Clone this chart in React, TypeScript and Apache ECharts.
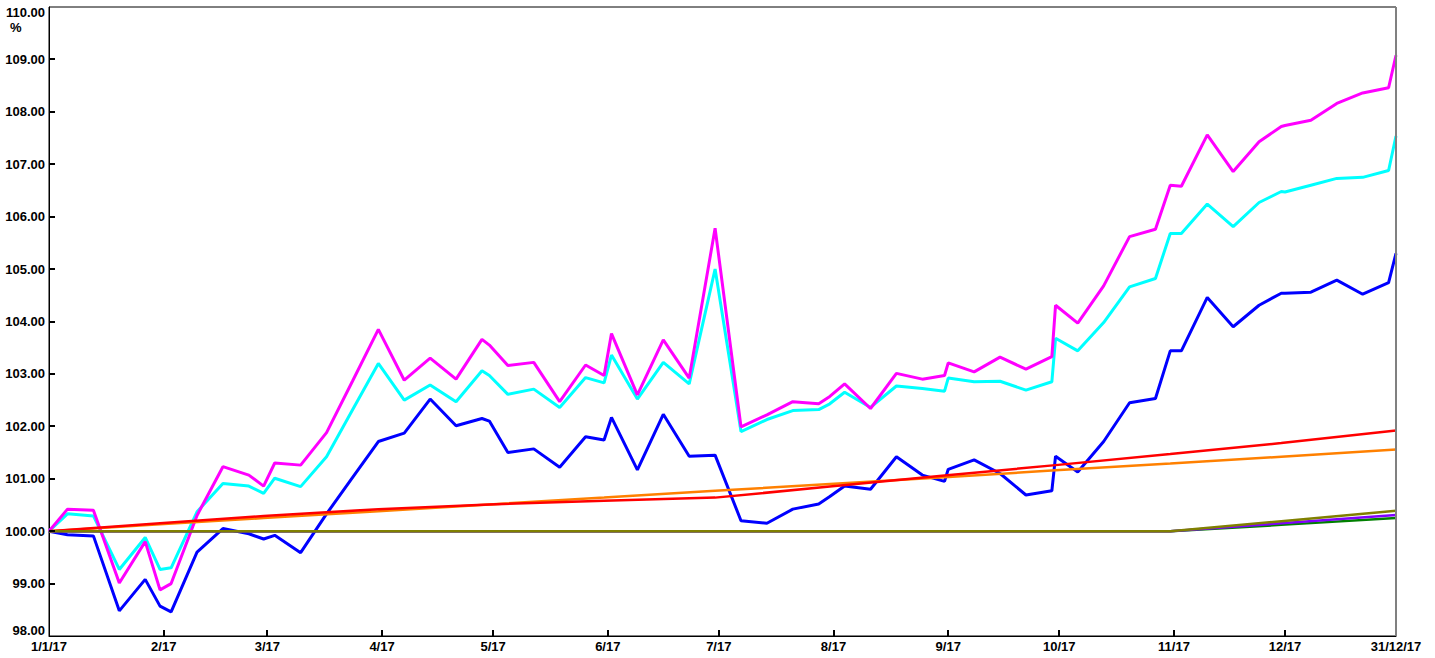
import React, { useEffect, useRef } from "react";
import * as echarts from "echarts";

const dates = [
  "2017-01-01", "2017-01-06", "2017-01-13", "2017-01-20", "2017-01-27", "2017-01-31",
  "2017-02-03", "2017-02-10", "2017-02-17", "2017-02-24", "2017-02-28",
  "2017-03-03", "2017-03-10", "2017-03-17", "2017-03-24", "2017-03-31",
  "2017-04-07", "2017-04-14", "2017-04-21", "2017-04-28", "2017-04-30",
  "2017-05-05", "2017-05-12", "2017-05-19", "2017-05-26", "2017-05-31",
  "2017-06-02", "2017-06-09", "2017-06-16", "2017-06-23", "2017-06-30",
  "2017-07-07", "2017-07-14", "2017-07-21", "2017-07-28", "2017-07-31",
  "2017-08-04", "2017-08-11", "2017-08-18", "2017-08-25", "2017-08-31",
  "2017-09-01", "2017-09-08", "2017-09-15", "2017-09-22", "2017-09-29", "2017-09-30",
  "2017-10-06", "2017-10-13", "2017-10-20", "2017-10-27", "2017-10-31",
  "2017-11-03", "2017-11-10", "2017-11-17", "2017-11-24", "2017-11-30",
  "2017-12-01", "2017-12-08", "2017-12-15", "2017-12-22", "2017-12-29", "2017-12-31",
];

const magentaValues = [
  100, 100.42, 100.40, 99.01, 99.80, 98.88,
  99.00, 100.30, 101.23, 101.07, 100.86,
  101.30, 101.26, 101.88, 102.86, 103.85,
  102.88, 103.30, 102.90, 103.66, 103.55,
  103.16, 103.22, 102.47, 103.17, 102.97,
  103.77, 102.60, 103.65, 102.92, 105.78,
  101.99, 102.22, 102.47, 102.43, 102.57,
  102.81, 102.34, 103.01, 102.90, 102.97,
  103.21, 103.04, 103.32, 103.09, 103.33, 104.31,
  103.97, 104.68, 105.62, 105.76, 106.60,
  106.58, 107.56, 106.86, 107.43, 107.72,
  107.74, 107.84, 108.16, 108.36, 108.46, 109.08,
];

const cyanValues = [
  100, 100.33, 100.29, 99.27, 99.88, 99.27,
  99.30, 100.37, 100.91, 100.86, 100.72,
  101.01, 100.85, 101.42, 102.31, 103.20,
  102.50, 102.79, 102.47, 103.06, 102.97,
  102.61, 102.71, 102.36, 102.93, 102.83,
  103.36, 102.52, 103.22, 102.81, 105.00,
  101.90, 102.13, 102.30, 102.32, 102.43,
  102.65, 102.36, 102.77, 102.72, 102.67,
  102.92, 102.85, 102.86, 102.69, 102.85, 103.68,
  103.44, 103.98, 104.66, 104.82, 105.68,
  105.68, 106.24, 105.81, 106.27, 106.48,
  106.47, 106.60, 106.73, 106.75, 106.88, 107.54,
];

const blueValues = [
  100, 99.93, 99.91, 98.48, 99.08, 98.57,
  98.46, 99.60, 100.05, 99.95, 99.85,
  99.92, 99.59, 100.33, 101.02, 101.71,
  101.87, 102.52, 102.01, 102.15, 102.10,
  101.50, 101.57, 101.22, 101.80, 101.74,
  102.17, 101.17, 102.23, 101.43, 101.45,
  100.20, 100.15, 100.42, 100.52, 100.66,
  100.86, 100.80, 101.42, 101.07, 100.95,
  101.18, 101.36, 101.10, 100.69, 100.77, 101.43,
  101.13, 101.71, 102.45, 102.53, 103.44,
  103.44, 104.46, 103.90, 104.31, 104.54,
  104.54, 104.56, 104.79, 104.52, 104.74, 105.30,
];

const monthEnds = [
  "2017-01-01", "2017-01-31", "2017-02-28", "2017-03-31", "2017-04-30", "2017-05-31",
  "2017-06-30", "2017-07-31", "2017-08-31", "2017-09-30", "2017-10-31", "2017-11-30", "2017-12-31",
];
const orangeValues = [100, 100.13, 100.25, 100.38, 100.51, 100.64, 100.77, 100.90, 101.03, 101.16, 101.29, 101.42, 101.56];
const redValues = [100, 100.15, 100.29, 100.42, 100.51, 100.58, 100.64, 100.85, 101.06, 101.26, 101.47, 101.68, 101.92];
const greenValues = [100, 100, 100, 100, 100, 100, 100, 100, 100, 100, 100, 100.12, 100.25];
const purpleValues = [100, 100, 100, 100, 100, 100, 100, 100, 100, 100, 100, 100.15, 100.31];
const oliveValues = [100, 100, 100, 100, 100, 100, 100, 100, 100, 100, 100, 100.19, 100.39];

const labelDates = [
  "2017-01-01", "2017-02-01", "2017-03-01", "2017-04-01", "2017-05-01", "2017-06-01", "2017-07-01",
  "2017-08-01", "2017-09-01", "2017-10-01", "2017-11-01", "2017-12-01", "2017-12-31",
];
const tickDates = [
  "2017-02-01", "2017-03-01", "2017-04-01", "2017-05-01", "2017-06-01", "2017-07-01",
  "2017-08-01", "2017-09-01", "2017-10-01", "2017-11-01", "2017-12-01",
];
const yTickValues = [99, 100, 101, 102, 103, 104, 105, 106, 107, 108, 109];

const ts = (s: string) => {
  const [y, m, d] = s.split("-").map(Number);
  return Date.UTC(y, m - 1, d);
};

const pair = (ds: string[], vs: number[]) => ds.map((d, i) => [ts(d), vs[i]]);

const FONT = "'Liberation Sans', Arial, sans-serif";

export default function App() {
  const ref = useRef<HTMLDivElement>(null);
  useEffect(() => {
    if (!ref.current) return;
    const chart = echarts.init(ref.current, null, { renderer: "svg" });
    const mk = (name: string, ds: string[], vs: number[], color: string, width: number) => ({
      name,
      type: "line",
      data: pair(ds, vs),
      showSymbol: false,
      symbol: "none",
      lineStyle: { color, width },
      itemStyle: { color },
    });
    const tickSeries = (name: string, data: number[][], vertical: boolean) => ({
      name,
      type: "custom",
      coordinateSystem: "cartesian2d",
      silent: true,
      clip: false,
      z: 20,
      data,
      encode: { x: 0, y: 1 },
      renderItem: (_params: any, api: any) => {
        const p = api.coord([api.value(0), api.value(1)]);
        const x = Math.round(p[0]);
        const y = Math.round(p[1]);
        return vertical
          ? { type: "rect", shape: { x: x - 1, y: y - 6, width: 2, height: 6 }, style: { fill: "#000" } }
          : { type: "rect", shape: { x: x, y: y - 1, width: 6, height: 2 }, style: { fill: "#000" } };
      },
    });
    chart.setOption({
      animation: false,
      backgroundColor: "#fff",
      grid: {
        left: 49, right: 39, top: 7, bottom: 22,
        show: true, borderColor: "#000", borderWidth: 1,
      },
      xAxis: {
        type: "value",
        min: ts("2017-01-01"),
        max: ts("2017-12-31"),
        axisLine: { show: true, lineStyle: { color: "#000", width: 1 } },
        axisTick: { show: false },
        splitLine: { show: false },
        axisLabel: {
          customValues: labelDates.map(ts),
          showMinLabel: true,
          showMaxLabel: true,
          margin: 4,
          color: "#000",
          fontFamily: FONT,
          fontWeight: "bold",
          fontSize: 13,
          formatter: (val: number) => {
            const d = new Date(val);
            const m = d.getUTCMonth() + 1;
            const day = d.getUTCDate();
            if (m === 1 && day === 1) return "1/1/17";
            if (m === 12 && day === 31) return "31/12/17";
            return m + "/17";
          },
        },
      },
      yAxis: {
        type: "value",
        min: 98,
        max: 110,
        interval: 1,
        axisLine: { show: true, lineStyle: { color: "#000", width: 1 } },
        axisTick: { show: false },
        splitLine: { show: false },
        axisLabel: {
          margin: 4,
          color: "#000",
          fontFamily: FONT,
          fontWeight: "bold",
          fontSize: 13,
          formatter: (v: number) => {
            if (v === 110) return "{t|110.00}";
            if (v === 98) return "{b|98.00}";
            return v.toFixed(2);
          },
          rich: {
            t: { padding: [11, 0, 0, 0], fontFamily: FONT, fontWeight: "bold", fontSize: 13, color: "#000" },
            b: { padding: [0, 0, 12, 0], fontFamily: FONT, fontWeight: "bold", fontSize: 13, color: "#000" },
          },
        },
      },
      graphic: [
        {
          type: "text",
          left: 10,
          top: 21,
          style: { text: "%", fontFamily: FONT, fontWeight: "bold", fontSize: 13, fill: "#000" },
        },
        {
          type: "line",
          shape: { x1: 1396, y1: 7, x2: 1396, y2: 636 },
          style: { stroke: "#808080", lineWidth: 2 },
          z: 100,
        },
      ],
      series: [
        mk("Cyan", dates, cyanValues, "#00FFFF", 3),
        mk("Magenta", dates, magentaValues, "#FF00FF", 3),
        mk("Blue", dates, blueValues, "#0000FF", 3),
        mk("Orange", monthEnds, orangeValues, "#FF8000", 2.5),
        mk("Red", monthEnds, redValues, "#FF0000", 2.5),
        mk("Green", monthEnds, greenValues, "#008000", 2.5),
        mk("Purple", monthEnds, purpleValues, "#8000FF", 2.5),
        mk("Olive", monthEnds, oliveValues, "#808000", 2.5),
        tickSeries("xTicks", tickDates.map((d) => [ts(d), 98]), true),
        tickSeries("yTicks", yTickValues.map((v) => [ts("2017-01-01"), v]), false),
      ],
    });
    return () => chart.dispose();
  }, []);
  return (
    <div
      ref={ref}
      style={{ position: "absolute", left: 0, top: 0, width: 1435, height: 658 }}
    />
  );
}
